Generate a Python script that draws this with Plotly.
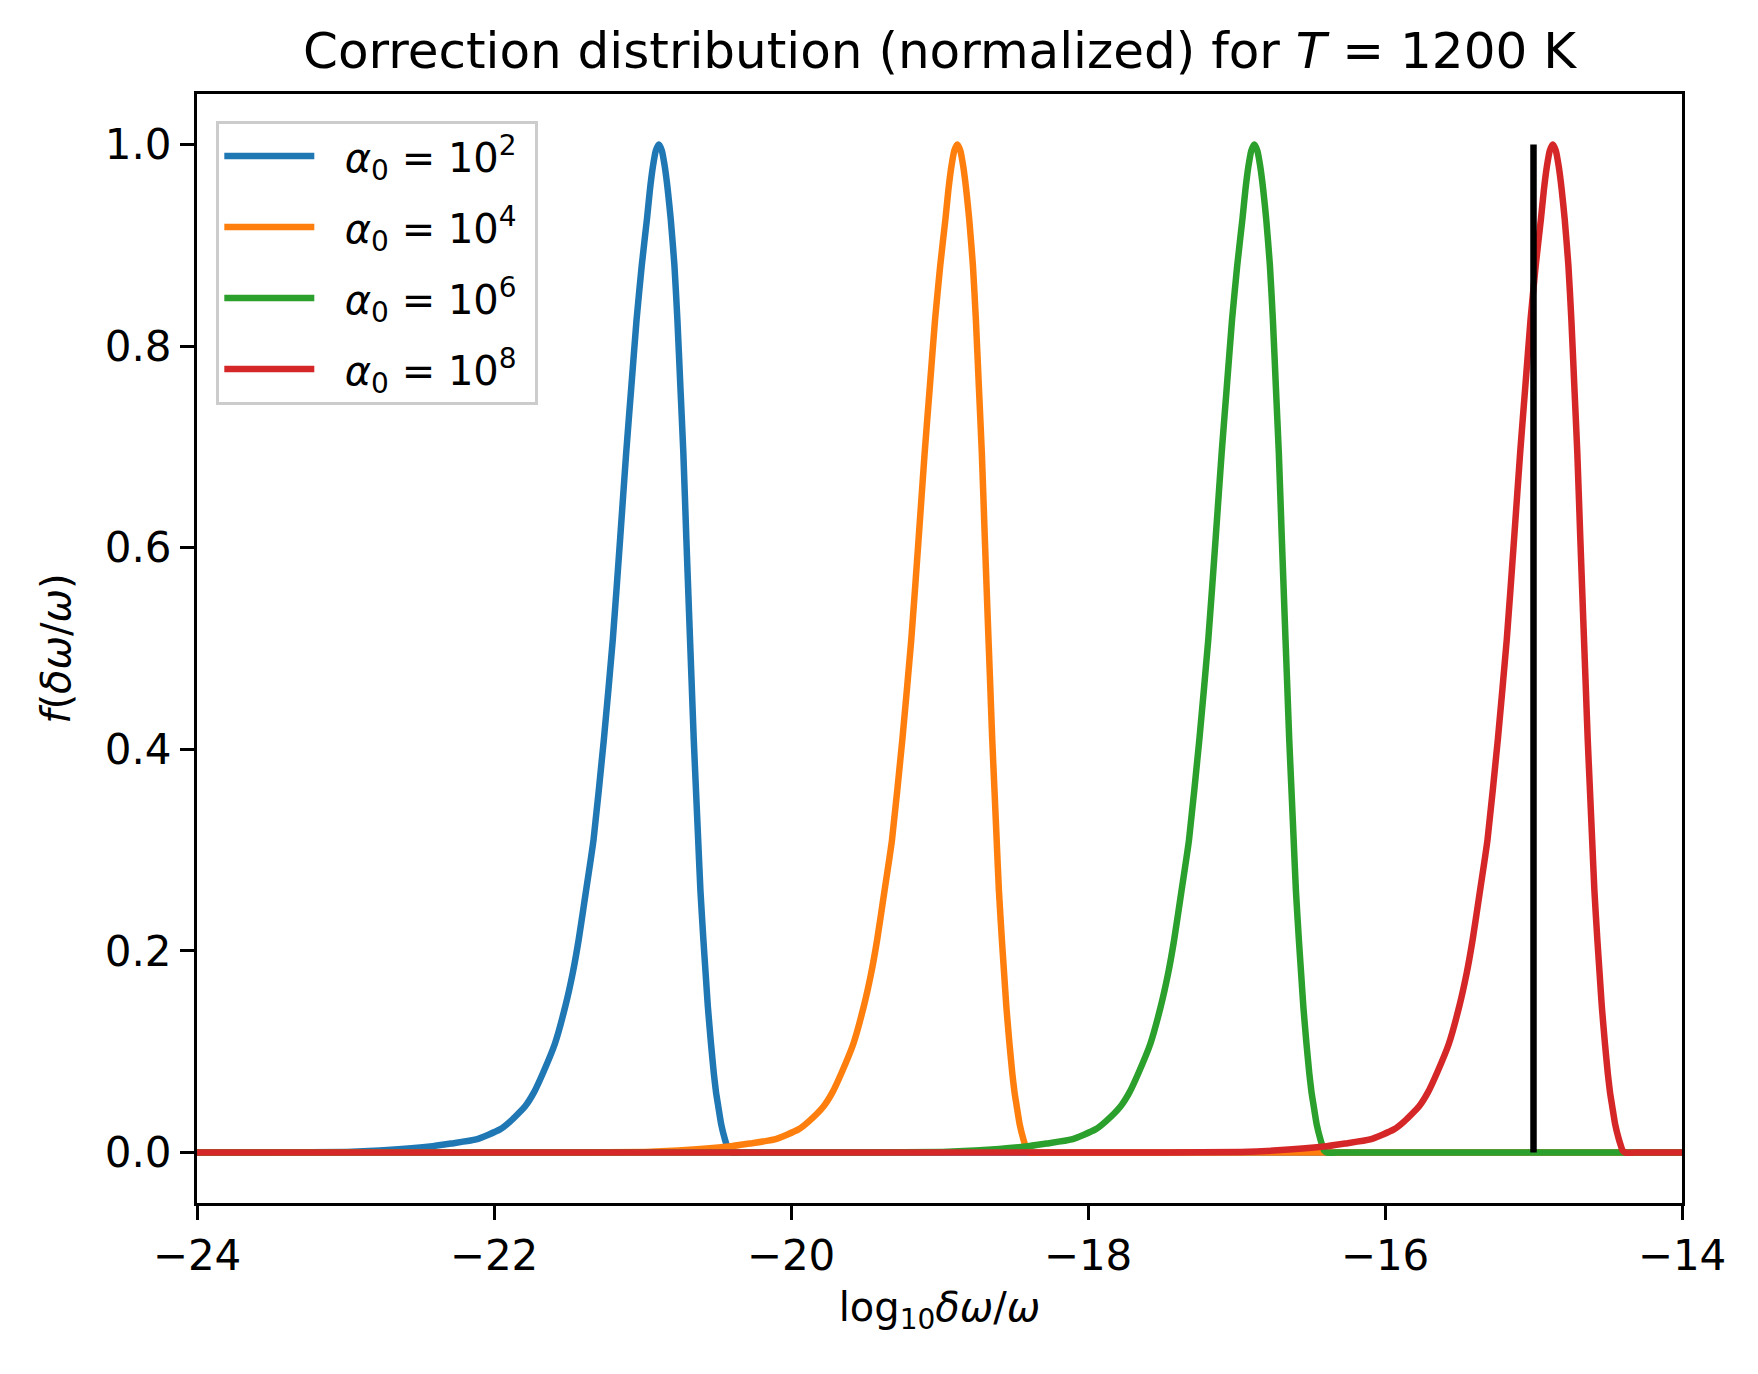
import plotly.graph_objects as go

# ---- data ----
x_tick_vals = [-24, -22, -20, -18, -16, -14]
x_tick_text = ["−24", "−22", "−20", "−18", "−16", "−14"]
y_tick_vals = [0.0, 0.2, 0.4, 0.6, 0.8, 1.0]
y_tick_text = ["0.0", "0.2", "0.4", "0.6", "0.8", "1.0"]

series_names = [
    "\u00a0\u00a0<i>α</i><sub>0</sub> = 10<sup>2</sup>\u00a0",
    "\u00a0\u00a0<i>α</i><sub>0</sub> = 10<sup>4</sup>\u00a0",
    "\u00a0\u00a0<i>α</i><sub>0</sub> = 10<sup>6</sup>\u00a0",
    "\u00a0\u00a0<i>α</i><sub>0</sub> = 10<sup>8</sup>\u00a0",
]
series_colors = ["#1f77b4", "#ff7f0e", "#2ca02c", "#d62728"]

# normalized f values (same sampling for every curve)
f_values = [0.0, 0.0001, 0.0006, 0.002, 0.006, 0.009, 0.013, 0.023, 0.031, 0.046,
            0.060, 0.079, 0.108, 0.145, 0.178, 0.211, 0.26, 0.31, 0.41, 0.509,
            0.61, 0.694, 0.76, 0.826, 0.88, 0.926, 0.955, 0.978, 0.994, 1.0,
            0.994, 0.978, 0.955, 0.926, 0.88, 0.826, 0.76, 0.694, 0.61, 0.529,
            0.47, 0.41, 0.36, 0.31, 0.26, 0.211, 0.178, 0.145, 0.11, 0.079,
            0.06, 0.046, 0.028, 0.013, 0.006, 0.002, 0.0, 0.0, 0.0]

x_a2 = [-24.0, -23.49, -22.99, -22.77, -22.43, -22.29, -22.12, -21.96, -21.89, -21.79,
        -21.73, -21.67, -21.59, -21.52, -21.47, -21.43, -21.38, -21.33, -21.26, -21.20,
        -21.15, -21.11, -21.075, -21.04, -21.005, -20.97, -20.95, -20.93, -20.91, -20.89,
        -20.87, -20.85, -20.83, -20.81, -20.785, -20.765, -20.745, -20.725, -20.705, -20.685,
        -20.67, -20.655, -20.64, -20.625, -20.61, -20.59, -20.575, -20.56, -20.54, -20.52,
        -20.505, -20.49, -20.47, -20.445, -20.43, -20.42, -20.40, -20.34, -14.0]
x_a4 = [-24.0, -21.48, -20.98, -20.76, -20.42, -20.28, -20.11, -19.95, -19.88, -19.78,
        -19.72, -19.66, -19.58, -19.51, -19.46, -19.42, -19.37, -19.32, -19.25, -19.19,
        -19.14, -19.10, -19.065, -19.03, -18.995, -18.96, -18.94, -18.92, -18.90, -18.88,
        -18.86, -18.84, -18.82, -18.80, -18.775, -18.755, -18.735, -18.715, -18.695, -18.675,
        -18.66, -18.645, -18.63, -18.615, -18.60, -18.58, -18.565, -18.55, -18.53, -18.51,
        -18.495, -18.48, -18.46, -18.435, -18.42, -18.41, -18.39, -18.33, -14.0]
x_a6 = [-24.0, -19.48, -18.98, -18.76, -18.42, -18.28, -18.11, -17.95, -17.88, -17.78,
        -17.72, -17.66, -17.58, -17.51, -17.46, -17.42, -17.37, -17.32, -17.25, -17.19,
        -17.14, -17.10, -17.065, -17.03, -16.995, -16.96, -16.94, -16.92, -16.90, -16.88,
        -16.86, -16.84, -16.82, -16.80, -16.775, -16.755, -16.735, -16.715, -16.695, -16.675,
        -16.66, -16.645, -16.63, -16.615, -16.60, -16.58, -16.565, -16.55, -16.53, -16.51,
        -16.495, -16.48, -16.46, -16.435, -16.42, -16.41, -16.39, -16.33, -14.0]
x_a8 = [-24.0, -17.47, -16.97, -16.75, -16.41, -16.27, -16.10, -15.94, -15.87, -15.77,
        -15.71, -15.65, -15.57, -15.50, -15.45, -15.41, -15.36, -15.31, -15.24, -15.18,
        -15.13, -15.09, -15.055, -15.02, -14.985, -14.95, -14.93, -14.91, -14.89, -14.87,
        -14.85, -14.83, -14.81, -14.79, -14.765, -14.745, -14.725, -14.705, -14.685, -14.665,
        -14.65, -14.635, -14.62, -14.605, -14.59, -14.57, -14.555, -14.54, -14.52, -14.50,
        -14.485, -14.47, -14.45, -14.425, -14.41, -14.40, -14.38, -14.32, -14.0]

series_x = [x_a2, x_a4, x_a6, x_a8]

marker_line_x = [-15.0, -15.0]
marker_line_y = [0.0, 1.0]

FONT = "DejaVu Sans"

# page body has an 8px margin; figure is sized so the plot area lands where the reference has it
FIG_W, FIG_H = 1742, 1358

fig = go.Figure()
for i, (name, col, xs) in enumerate(zip(series_names, series_colors, series_x)):
    fig.add_trace(go.Scatter(
        x=xs, y=f_values, mode="lines", name=name,
        line=dict(color=col, width=6.5, shape="spline", smoothing=0.5),
        legendgroup=f"g{i}",
    ))

fig.add_trace(go.Scatter(
    x=marker_line_x, y=marker_line_y, mode="lines",
    line=dict(color="black", width=6.5), showlegend=False,
))

axis_common = dict(
    showgrid=False, zeroline=False, showline=True, linecolor="black", linewidth=3,
    mirror=True, ticks="outside", ticklen=14, tickwidth=3, tickcolor="black",
    tickfont=dict(family=FONT, size=42, color="black"),
)

fig.update_layout(
    width=FIG_W, height=FIG_H,
    margin=dict(l=189, r=68, t=86, b=163),
    paper_bgcolor="white", plot_bgcolor="white",
    font=dict(family=FONT, size=40, color="black"),
    title=dict(
        text="Correction distribution (normalized) for <i>T</i> = 1200 K",
        x=0.5, xref="paper", xanchor="center",
        y=1 - 42 / FIG_H, yref="container", yanchor="middle",
        font=dict(family=FONT, size=50, color="black"),
    ),
    xaxis=dict(
        range=[-24, -14], tickvals=x_tick_vals, ticktext=x_tick_text,
        title=dict(text="log<sub>10</sub><i>δω</i>/<i>ω</i>", standoff=14,
                   font=dict(family=FONT, size=40)),
        **axis_common,
    ),
    yaxis=dict(
        range=[-0.05, 1.05], tickvals=y_tick_vals, ticktext=y_tick_text,
        title=dict(text="<i>f</i>(<i>δω</i>/<i>ω</i>)", standoff=22,
                   font=dict(family=FONT, size=40)),
        **axis_common,
    ),
    legend=dict(
        x=0.013, y=0.976, xanchor="left", yanchor="top",
        bgcolor="rgba(255,255,255,0.8)", bordercolor="#cccccc", borderwidth=3,
        font=dict(family=FONT, size=40, color="black"),
        tracegroupgap=16, itemwidth=90,
    ),
    showlegend=True,
)

fig.write_html("out.html")
